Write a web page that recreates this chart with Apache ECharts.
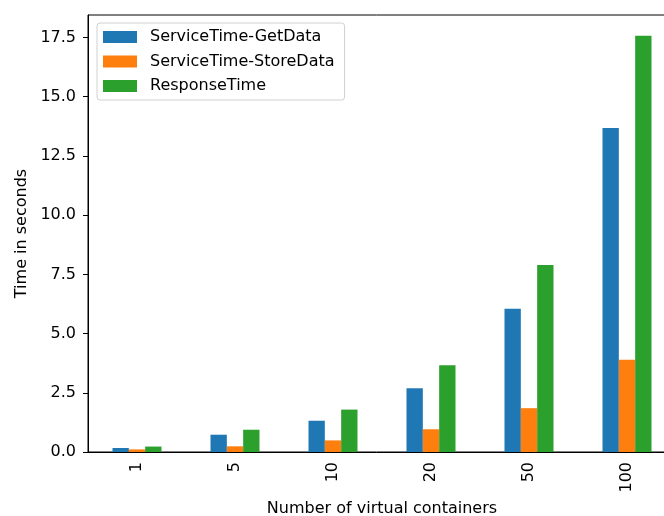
<!DOCTYPE html>
<html>
<head>
<meta charset="utf-8">
<script src="https://cdn.jsdelivr.net/npm/echarts@6/dist/echarts.min.js"></script>
<style>html,body{margin:0;padding:0;background:#fff}#c{width:664px;height:516px}</style>
</head>
<body>
<div id="c"></div>
<script>
const categories = ['1', '5', '10', '20', '50', '100'];
const getData = [0.17, 0.73, 1.32, 2.69, 6.05, 13.68];
const storeData = [0.11, 0.24, 0.49, 0.96, 1.85, 3.90];
const responseTime = [0.23, 0.94, 1.79, 3.66, 7.90, 17.57];
const seriesNames = ['ServiceTime-GetData', 'ServiceTime-StoreData', 'ResponseTime'];
const colors = ['#1f77b4', '#ff7f0e', '#2ca02c'];

const font = 'DejaVu Sans';
const chart = echarts.init(document.getElementById('c'), null, {renderer: 'canvas'});
chart.setOption({
  animation: false,
  color: colors,
  textStyle: {fontFamily: font},
  grid: {left: 88, top: 15, bottom: 64, right: -12, containLabel: false, outerBoundsMode: 'none',
    show: true, borderColor: '#000', borderWidth: 1, backgroundColor: 'transparent'},
  legend: {
    orient: 'vertical', left: 97, top: 23,
    data: seriesNames,
    icon: 'rect', itemWidth: 34, itemHeight: 12, itemGap: 8.5,
    padding: [6, 10, 6, 6],
    borderColor: '#d0d0d0', borderWidth: 1, borderRadius: 3,
    backgroundColor: 'rgba(255,255,255,0.8)',
    textStyle: {fontFamily: font, fontSize: 16, color: '#000', padding: [0, 0, 0, 8]}
  },
  xAxis: {
    type: 'category', data: categories,
    name: 'Number of virtual containers', nameLocation: 'middle', nameGap: 49,
    nameTextStyle: {fontFamily: font, fontSize: 16, color: '#000'},
    axisLine: {lineStyle: {color: '#000', width: 1}},
    axisTick: {alignWithLabel: true, length: 5, lineStyle: {color: '#000'}},
    axisLabel: {rotate: 90, margin: 10, fontFamily: font, fontSize: 16, color: '#000'},
    splitLine: {show: false}
  },
  yAxis: {
    type: 'value', min: 0, max: 18.45, interval: 2.5,
    name: 'Time in seconds', nameLocation: 'middle', nameGap: 52, nameRotate: 90,
    nameTextStyle: {fontFamily: font, fontSize: 16, color: '#000'},
    axisLine: {show: true, lineStyle: {color: '#000', width: 1}},
    axisTick: {show: true, length: 5, lineStyle: {color: '#000'}},
    axisLabel: {margin: 12, fontFamily: font, fontSize: 16, color: '#000', showMaxLabel: false,
      formatter: v => v.toFixed(1)},
    splitLine: {show: false}
  },
  series: [
    {name: seriesNames[0], type: 'bar', data: getData, barGap: '0%', barCategoryGap: '50%'},
    {name: seriesNames[1], type: 'bar', data: storeData, barGap: '0%', barCategoryGap: '50%'},
    {name: seriesNames[2], type: 'bar', data: responseTime, barGap: '0%', barCategoryGap: '50%'}
  ]
});
</script>
</body>
</html>
